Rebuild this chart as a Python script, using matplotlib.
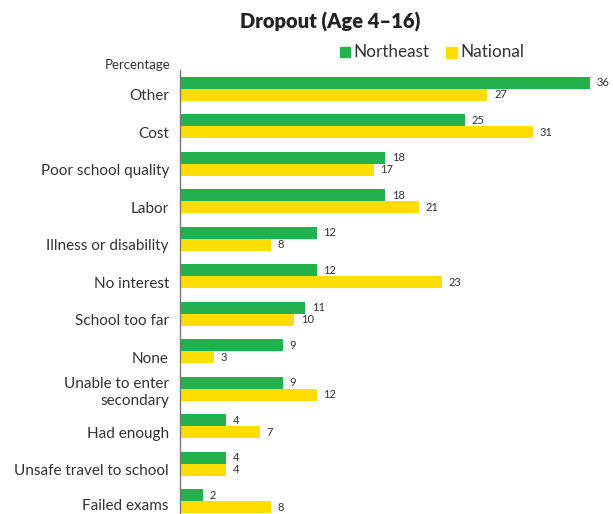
import matplotlib
matplotlib.use("Agg")
import matplotlib.pyplot as plt
from matplotlib.patches import Rectangle
import matplotlib.transforms as mtransforms
import numpy as np

categories = ["Other", "Cost", "Poor school quality", "Labor", "Illness or disability",
              "No interest", "School too far", "None", "Unable to enter\nsecondary",
              "Had enough", "Unsafe travel to school", "Failed exams"]
northeast = [36, 25, 18, 18, 12, 12, 11, 9, 9, 4, 4, 2]
national = [27, 31, 17, 21, 8, 23, 10, 3, 12, 7, 4, 8]

green = "#22B14C"
yellow = "#FFDD00"
plt.rcParams['font.family'] = ['Lato', 'DejaVu Sans']

W, H = 613, 514
fig = plt.figure(figsize=(W/100, H/100), dpi=100)
ax = fig.add_axes([180/W, 0, (590-180)/W, (514-70)/H])

y = np.arange(len(categories))
h = 0.32
ax.barh(y - h/2, northeast, height=h, color=green)
ax.barh(y + h/2, national, height=h, color=yellow)
for yi, v in zip(y, northeast):
    ax.text(v + 0.6, yi - h/2, str(v), va='center', ha='left', fontsize=8, color='#333333')
for yi, v in zip(y, national):
    ax.text(v + 0.6, yi + h/2, str(v), va='center', ha='left', fontsize=8, color='#333333')

ax.set_xlim(0, 36)
ax.set_ylim((514-89)/37.5, -0.5)
ax.set_yticks(y)
ax.set_yticklabels(categories, fontsize=11, color='#333333', linespacing=1.25)
ax.tick_params(axis='y', length=0, pad=8)
ax.set_xticks([])
n = len(categories)
for i, lbl in enumerate(ax.get_yticklabels()):
    if "\n" in lbl.get_text():
        dy = -1
    elif i == n - 1:
        dy = -3.5
    else:
        dy = -6
    lbl.set_transform(lbl.get_transform() +
                      mtransforms.ScaledTranslation(0, dy/100, fig.dpi_scale_trans))
for s in ['top', 'right', 'bottom']:
    ax.spines[s].set_visible(False)
ax.spines['left'].set_color('#777777')
ax.spines['left'].set_linewidth(1)

fig.text(330/W, 1 - 22/H, "Dropout (Age 4–16)", ha='center', va='center',
         fontsize=14.5, fontweight='heavy', color='#222222')
fig.text(170/W, 1 - 65/H, "Percentage", ha='right', va='center', fontsize=9.5, color='#333333')

# legend
fig.patches.append(Rectangle((340/W, 1 - 57/H), 10/W, 10/H, transform=fig.transFigure,
                             color=green, figure=fig))
fig.text(353/W, 1 - 52/H, "Northeast", ha='left', va='center', fontsize=12.3, color='#333333')
fig.patches.append(Rectangle((446/W, 1 - 58/H), 11/W, 11/H, transform=fig.transFigure,
                             color=yellow, figure=fig))
fig.text(460/W, 1 - 52/H, "National", ha='left', va='center', fontsize=12.3, color='#333333')

fig.savefig("out.png", dpi=100)
